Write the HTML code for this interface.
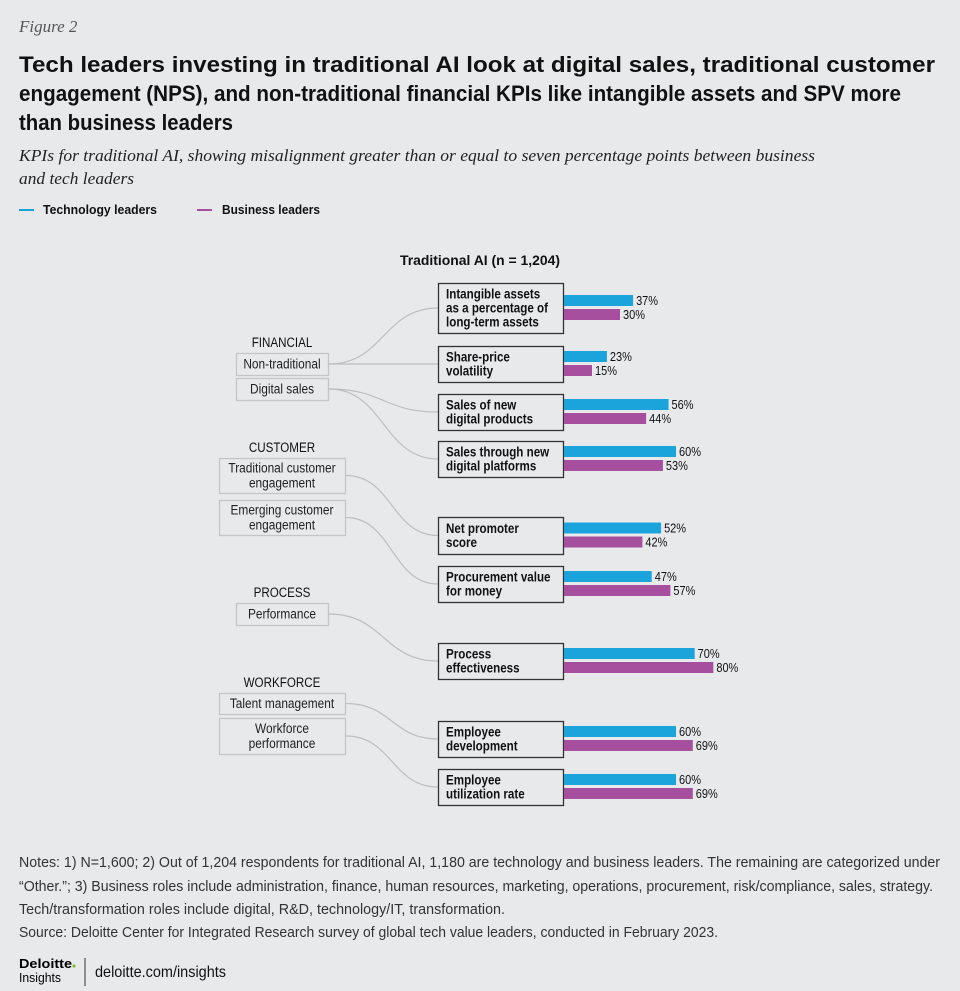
<!DOCTYPE html>
<html><head><meta charset="utf-8"><style>
html,body{margin:0;padding:0;background:#e8e9eb;}
svg{display:block;font-family:"Liberation Sans",sans-serif;}
</style></head><body>
<svg id="chart" width="960" height="991" viewBox="0 0 960 991" xmlns="http://www.w3.org/2000/svg">
<rect width="960" height="991" fill="#e8e9eb"/>
<text x="19" y="32" font-family="Liberation Serif,serif" font-style="italic" font-size="17" fill="#555">Figure 2</text>
<g font-weight="bold" font-size="22" fill="#111">
<text x="19" y="72" textLength="916" lengthAdjust="spacingAndGlyphs">Tech leaders investing in traditional AI look at digital sales, traditional customer</text>
<text x="19" y="101" textLength="882" lengthAdjust="spacingAndGlyphs">engagement (NPS), and non-traditional financial KPIs like intangible assets and SPV more</text>
<text x="19" y="130" textLength="214" lengthAdjust="spacingAndGlyphs">than business leaders</text>
</g>
<g font-family="Liberation Serif,serif" font-style="italic" font-size="16.5" fill="#222">
<text x="19" y="161" textLength="796" lengthAdjust="spacingAndGlyphs">KPIs for traditional AI, showing misalignment greater than or equal to seven percentage points between business</text>
<text x="19" y="184" textLength="115" lengthAdjust="spacingAndGlyphs">and tech leaders</text>
</g>
<g font-weight="bold" font-size="13" fill="#111">
<line x1="19" y1="210" x2="34" y2="210" stroke="#1ba3dc" stroke-width="2"/>
<text x="43" y="214" textLength="114" lengthAdjust="spacingAndGlyphs">Technology leaders</text>
<line x1="197" y1="210" x2="212" y2="210" stroke="#a64f9e" stroke-width="2"/>
<text x="222" y="214" textLength="98" lengthAdjust="spacingAndGlyphs">Business leaders</text>
</g>
<text x="480" y="265" text-anchor="middle" font-weight="bold" font-size="14" fill="#111" textLength="160" lengthAdjust="spacingAndGlyphs">Traditional AI (n = 1,204)</text>
<g id="groups"></g>
<g id="links"></g>
<g id="kpis"></g>
<g font-size="15" fill="#333">
<text x="19" y="867" textLength="921" lengthAdjust="spacingAndGlyphs">Notes: 1) N=1,600; 2) Out of 1,204 respondents for traditional AI, 1,180 are technology and business leaders. The remaining are categorized under</text>
<text x="19" y="891" textLength="914" lengthAdjust="spacingAndGlyphs">“Other.”; 3) Business roles include administration, finance, human resources, marketing, operations, procurement, risk/compliance, sales, strategy.</text>
<text x="19" y="914" textLength="486" lengthAdjust="spacingAndGlyphs">Tech/transformation roles include digital, R&amp;D, technology/IT, transformation.</text>
<text x="19" y="937" textLength="699" lengthAdjust="spacingAndGlyphs">Source: Deloitte Center for Integrated Research survey of global tech value leaders, conducted in February 2023.</text>
</g>
<g>
<text x="19" y="968" font-weight="bold" font-size="13" fill="#000" textLength="53" lengthAdjust="spacingAndGlyphs">Deloitte</text>
<circle cx="74" cy="966" r="1.6" fill="#86bc25"/>
<text x="19" y="982" font-size="13" fill="#000" textLength="42" lengthAdjust="spacingAndGlyphs">Insights</text>
<line x1="85" y1="958" x2="85" y2="986" stroke="#333" stroke-width="1"/>
<text x="95" y="977" font-size="16" fill="#111" textLength="131" lengthAdjust="spacingAndGlyphs">deloitte.com/insights</text>
</g>
</svg>
<script>
// Data
const kpiLabels = [["Intangible assets","as a percentage of","long-term assets"],["Share-price","volatility"],["Sales of new","digital products"],["Sales through new","digital platforms"],["Net promoter","score"],["Procurement value","for money"],["Process","effectiveness"],["Employee","development"],["Employee","utilization rate"]];
const techValues = [37,23,56,60,52,47,70,60,60];
const businessValues = [30,15,44,53,42,57,80,69,69];
const categoryNames = ["FINANCIAL","CUSTOMER","PROCESS","WORKFORCE"];
const subgroupLabels = [["Non-traditional"],["Digital sales"],["Traditional customer","engagement"],["Emerging customer","engagement"],["Performance"],["Talent management"],["Workforce","performance"]];
const subgroupCategory = [0,0,1,1,2,3,3];
const subgroupKpis = [[0,1],[2,3],[4],[5],[6],[7],[8]];

// Layout
const NS="http://www.w3.org/2000/svg";
const svg=document.getElementById('chart');
function el(tag,attrs,parent){const e=document.createElementNS(NS,tag);for(const k in attrs)e.setAttribute(k,attrs[k]);parent.appendChild(e);return e;}
function condense(t,f){const w=t.getComputedTextLength();if(w>0){t.setAttribute('textLength',(w*f).toFixed(1));t.setAttribute('lengthAdjust','spacingAndGlyphs');}}
const x0=564, pxPerPct=112/60;
const xScale=v=>v*pxPerPct;
const boxTop=[283,346,394,441,517,566,643,721,769];
const boxH=[50,36,36,36,37,36,36,36,36];
const kpiG=document.getElementById('kpis');
kpiLabels.forEach((lines,i)=>{
  const g=el('g',{},kpiG);
  
  
  const r=el('rect',{x:438.5,y:boxTop[i]+.5,width:125,height:boxH[i],fill:'#e8e9eb',stroke:'#333','stroke-width':1.3},g);
  
  
  const n=lines.length, cy=boxTop[i]+boxH[i]/2;
  lines.forEach((ln,j)=>{
    const t=el('text',{x:446,y:cy+(j-(n-1)/2)*14+4.5,'font-size':13.5,'font-weight':'bold',fill:'#111'},g);
    t.textContent=ln;
    
    
    condense(t,0.86);
  });
  const by=cy-13;
  const b1=el('rect',{x:x0,y:by,width:xScale(techValues[i]),height:11,fill:'#1ba3dc'},g);
  
  
  const t1=el('text',{x:x0+xScale(techValues[i])+3,y:by+10,'font-size':12.5,fill:'#111'},g);
  t1.textContent=techValues[i]+'%';
  
  
  condense(t1,0.88);
  const b2=el('rect',{x:x0,y:by+14,width:xScale(businessValues[i]),height:11,fill:'#a64f9e'},g);
  
  
  const t2=el('text',{x:x0+xScale(businessValues[i])+3,y:by+24,'font-size':12.5,fill:'#111'},g);
  t2.textContent=businessValues[i]+'%';
  
  
  condense(t2,0.88);
});
// Groups
const catY=[347,452,597,687];
const sgTop=[353,378,458,500,603,693,718];
const sgH=[22,22,35,35,22,21,36];
const sgX=[236,236,219,219,236,219,219];
const sgW=[92,92,126,126,92,126,126];
const gG=document.getElementById('groups');
categoryNames.forEach((c,i)=>{
  const t=el('text',{x:282,y:catY[i],'text-anchor':'middle','font-size':13.5,fill:'#111'},gG);
  t.textContent=c;
  
  
  condense(t,0.86);
});
const lG=document.getElementById('links');
subgroupLabels.forEach((lines,i)=>{
  const g=el('g',{},gG);
  
  
  el('rect',{x:sgX[i]+.5,y:sgTop[i]+.5,width:sgW[i],height:sgH[i],fill:'none',stroke:'#c4c5c7','stroke-width':1.3},g);
  const cy=sgTop[i]+sgH[i]/2;
  lines.forEach((ln,j)=>{
    const t=el('text',{x:282,y:cy+(j-(lines.length-1)/2)*15+4.5,'text-anchor':'middle','font-size':13.5,fill:'#222'},g);
    t.textContent=ln;
    condense(t,0.88);
  });
  const sx=sgX[i]+sgW[i]+1;
  subgroupKpis[i].forEach(k=>{
    const ty=boxTop[k]+boxH[k]/2, tx=438, mx=(sx+tx)/2;
    const p=el('path',{d:`M${sx},${cy} C${mx},${cy} ${mx},${ty} ${tx},${ty}`,fill:'none',stroke:'#bdbec0','stroke-width':1.2},lG);
    
    
  });
});
</script>
</body></html>
